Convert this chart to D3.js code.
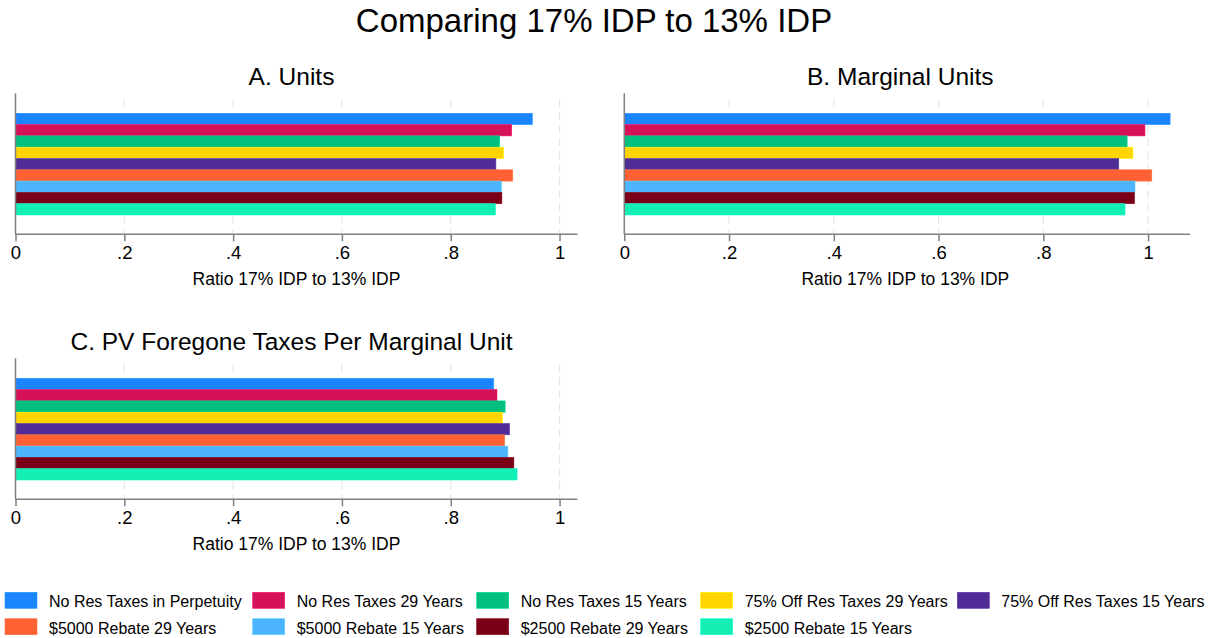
<!DOCTYPE html>
<html>
<head>
<meta charset="UTF-8">
<title>Comparing 17% IDP to 13% IDP</title>
<script src="https://d3js.org/d3.v7.min.js"></script>
<style>
    body {
        margin: 0;
        background: #fff;
        font-family: "Liberation Sans", Arial, Helvetica, sans-serif;
    }
</style>
</head>
<body>
<script>
    // series, in legend / bar order (top bar first)
    const series = [
        "No Res Taxes in Perpetuity",
        "No Res Taxes 29 Years",
        "No Res Taxes 15 Years",
        "75% Off Res Taxes 29 Years",
        "75% Off Res Taxes 15 Years",
        "$5000 Rebate 29 Years",
        "$5000 Rebate 15 Years",
        "$2500 Rebate 29 Years",
        "$2500 Rebate 15 Years"
    ];
    const colors = ["#1a85ff", "#d41159", "#00bf7f", "#ffd400", "#502d96",
                    "#ff6135", "#4db4ff", "#790016", "#12eeb4"];

    // ratio 17% IDP to 13% IDP, one value per series
    const unitsVals    = [0.950, 0.912, 0.890, 0.897, 0.883, 0.914, 0.893, 0.894, 0.882];
    const marginalVals = [1.042, 0.994, 0.960, 0.971, 0.944, 1.007, 0.975, 0.974, 0.956];
    const pvVals       = [0.879, 0.885, 0.900, 0.895, 0.908, 0.899, 0.905, 0.916, 0.922];

    const tickVals = [0, 0.2, 0.4, 0.6, 0.8, 1];
    const tickLabels = ["0", ".2", ".4", ".6", ".8", "1"];
    const axisTitle = "Ratio 17% IDP to 13% IDP";

    const W = 1209, H = 638;
    const svg = d3.select("body").append("svg").attr("width", W).attr("height", H);

    svg.append("text")
        .attr("x", 594).attr("y", 32)
        .attr("text-anchor", "middle")
        .style("font-size", "33px")
        .text("Comparing 17% IDP to 13% IDP");

    const panels = [
        { title: "A. Units", vals: unitsVals, x0: 15.5, x1: 577.5, top: 93.3, bottom: 234.3, xmax: 1.033 },
        { title: "B. Marginal Units", vals: marginalVals, x0: 624.3, x1: 1190, top: 93.3, bottom: 234.3, xmax: 1.080 },
        { title: "C. PV Foregone Taxes Per Marginal Unit", vals: pvVals, x0: 15.5, x1: 577.5, top: 358.3, bottom: 499.3, xmax: 1.033 }
    ];

    panels.forEach(p => {
        const g = svg.append("g");
        const x = d3.scaleLinear().domain([0, p.xmax]).range([p.x0, p.x1]);
        const y = d3.scaleBand().domain(series).range([p.top + 20, p.bottom - 19.3]).padding(0);

        // title
        g.append("text")
            .attr("x", p.x0 + 276).attr("y", p.top - 8)
            .attr("text-anchor", "middle")
            .style("font-size", "24.5px")
            .text(p.title);

        // dashed grid
        g.selectAll(".grid").data(tickVals.slice(1)).join("line")
            .attr("x1", d => x(d)).attr("x2", d => x(d))
            .attr("y1", p.top + 6).attr("y2", p.bottom)
            .attr("stroke", "#e6e6e6").attr("stroke-width", 1.2)
            .attr("stroke-dasharray", "8,5");

        // bars
        g.selectAll(".bar").data(p.vals).join("rect")
            .attr("x", x(0))
            .attr("y", (d, i) => y(series[i]))
            .attr("width", d => x(d) - x(0))
            .attr("height", y.bandwidth())
            .attr("fill", (d, i) => colors[i])
            .attr("stroke", (d, i) => d3.color(colors[i]).brighter(0.4))
            .attr("stroke-width", 0.6);

        // x axis
        const ax = d3.axisBottom(x).tickValues(tickVals)
            .tickFormat((d, i) => tickLabels[i]).tickSize(7).tickSizeOuter(0).tickPadding(5);
        const axg = g.append("g").attr("transform", `translate(0,${p.bottom})`).call(ax);
        axg.select(".domain").attr("stroke", "#808080").attr("stroke-width", 1.5)
            .attr("d", `M${p.x0},0H${p.x1}`);
        axg.selectAll(".tick line").attr("stroke", "#808080").attr("stroke-width", 1.5);
        axg.selectAll(".tick text").attr("fill", "#000")
            .style("font-size", "18.5px")
            .style("font-family", "'Liberation Sans', Arial, sans-serif");

        // y axis line
        g.append("line")
            .attr("x1", p.x0).attr("x2", p.x0)
            .attr("y1", p.top).attr("y2", p.bottom)
            .attr("stroke", "#808080").attr("stroke-width", 1.5);

        g.append("text")
            .attr("x", p.x0 + 281).attr("y", p.bottom + 51)
            .attr("text-anchor", "middle")
            .style("font-size", "17.5px")
            .text(axisTitle);
    });

    // legend: 5 columns, 2 rows
    const colX = [5, 252.7, 476.7, 700.7, 957.3];
    const rowY = [592.3, 618.7];
    const lg = svg.append("g");
    series.forEach((s, i) => {
        const cx = colX[i % 5], cy = rowY[Math.floor(i / 5)];
        lg.append("rect")
            .attr("x", cx).attr("y", cy).attr("width", 32).attr("height", 16)
            .attr("fill", colors[i])
            .attr("stroke", d3.color(colors[i]).brighter(0.4)).attr("stroke-width", 0.6);
        lg.append("text")
            .attr("x", cx + 44).attr("y", cy + 15)
            .style("font-size", "16px")
            .text(s);
    });
</script>
</body>
</html>
